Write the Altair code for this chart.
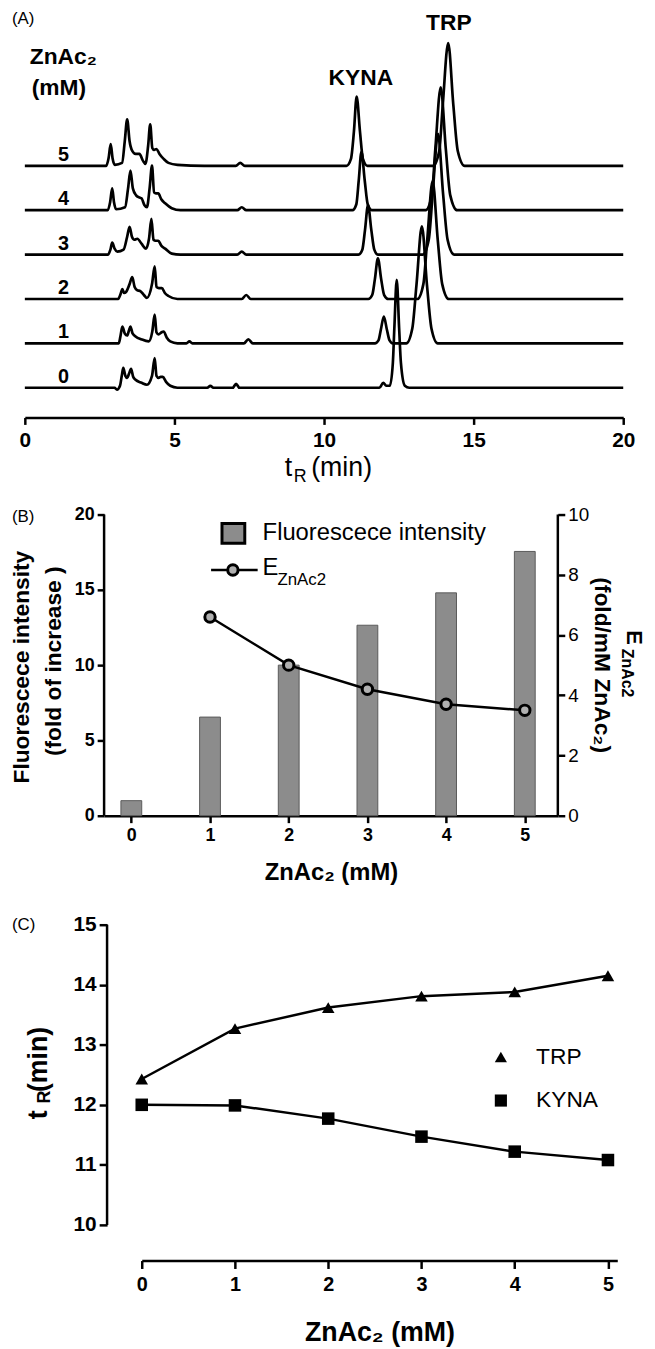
import altair as alt
import pandas as pd

FONT = "Liberation Sans"

# ---------------- Panel A: chromatograms (t = retention time in min, h = signal height) -------------
T0 = [0, 3.00, 3.08, 3.18, 3.24, 3.29, 3.36, 3.42, 3.48, 3.55, 3.62, 3.70, 3.90, 4.08, 4.25, 4.34, 4.40, 4.47, 4.54, 4.61, 4.72, 4.86, 5.10, 6.10, 6.20, 6.30, 6.95, 7.06, 7.17, 11.85, 11.98, 12.08, 12.20, 12.30, 12.35, 12.43, 12.51, 12.57, 12.70, 12.85, 20]
H0 = [0, 0, -2, 2, 12, 20, 12, 10, 14, 19, 11, 8, 5, 3, 12, 30, 12, 10, 11, 11, 6, 2, 0, 0, 2, 0, 0, 4, 0, 0, 5, 2, 2, 25, 60, 109, 60, 25, 2, 0, 0]

T1 = [0, 3.14, 3.20, 3.26, 3.34, 3.42, 3.48, 3.53, 3.60, 3.70, 3.90, 4.14, 4.26, 4.34, 4.40, 4.47, 4.56, 4.64, 4.74, 4.86, 5.10, 5.40, 5.50, 5.60, 7.32, 7.47, 7.62, 11.70, 11.82, 11.90, 12.00, 12.10, 12.19, 12.30, 12.75, 12.95, 13.09, 13.27, 13.44, 13.59, 13.80, 20]
H1 = [0, 0, 8, 17, 10, 8, 13, 17, 10, 7, 4, 2, 12, 29, 11, 9, 11, 12, 6, 2, 0, 0, 2, 0, 0, 4, 0, 0, 3, 14, 27, 14, 3, 0, 0, 15, 59, 118, 59, 15, 0, 0]

T2 = [0, 3.12, 3.20, 3.26, 3.32, 3.38, 3.50, 3.59, 3.67, 3.75, 3.86, 3.98, 4.08, 4.25, 4.34, 4.40, 4.48, 4.58, 4.68, 4.80, 5.10, 7.25, 7.40, 7.55, 11.48, 11.61, 11.70, 11.80, 11.91, 12.01, 12.15, 13.12, 13.32, 13.45, 13.63, 13.80, 13.95, 14.17, 20]
H2 = [0, 0, 5, 10, 6, 7, 15, 22, 12, 9, 8, 4, 1, 15, 33, 12, 11, 11, 6, 3, 0, 0, 4, 0, 0, 4, 20, 41, 20, 4, 0, 0, 15, 60, 119, 60, 15, 0, 0]

T3 = [0, 2.78, 2.86, 2.92, 3.00, 3.09, 3.30, 3.42, 3.50, 3.58, 3.66, 3.76, 3.90, 4.05, 4.15, 4.23, 4.30, 4.37, 4.46, 4.56, 4.69, 4.91, 5.20, 7.10, 7.25, 7.40, 11.15, 11.28, 11.37, 11.47, 11.58, 11.68, 11.80, 13.30, 13.50, 13.63, 13.81, 13.98, 14.13, 14.35, 20]
H3 = [0, 0, 5, 12, 6, 3, 5, 18, 28, 18, 15, 16, 11, 6, 16, 36, 15, 14, 14, 9, 6, 1, 0, 0, 3, 0, 0, 5, 25, 50, 25, 5, 0, 0, 15, 61, 122, 61, 15, 0, 0]

T4 = [0, 2.77, 2.85, 2.92, 2.98, 3.05, 3.35, 3.45, 3.53, 3.61, 3.72, 3.82, 3.90, 4.00, 4.08, 4.17, 4.25, 4.32, 4.38, 4.46, 4.56, 4.69, 4.91, 5.20, 7.10, 7.25, 7.40, 10.95, 11.08, 11.16, 11.25, 11.36, 11.46, 11.60, 13.40, 13.60, 13.72, 13.90, 14.07, 14.22, 14.45, 20]
H4 = [0, 0, 8, 22, 8, 1, 3, 22, 40, 22, 15, 13, 12, 5, 3, 22, 45, 18, 17, 17, 11, 7, 2, 0, 0, 3, 0, 0, 6, 30, 59, 30, 6, 0, 0, 15, 62, 124, 62, 15, 0, 0]

T5 = [0, 2.72, 2.80, 2.87, 2.93, 3.01, 3.25, 3.34, 3.42, 3.50, 3.59, 3.70, 3.83, 3.95, 4.03, 4.12, 4.19, 4.26, 4.32, 4.40, 4.50, 4.64, 4.80, 5.10, 6.00, 7.05, 7.20, 7.35, 10.75, 10.90, 11.00, 11.09, 11.20, 11.30, 11.45, 13.65, 13.85, 13.97, 14.15, 14.32, 14.47, 14.70, 20]
H5 = [0, 0, 8, 22, 8, 1, 3, 25, 47, 25, 15, 12, 12, 5, 2, 20, 42, 18, 16, 17, 12, 7, 3, 1, 0, 0, 3, 0, 0, 7, 35, 70, 35, 7, 0, 0, 15, 62, 124, 62, 15, 0, 0]

LEVEL_LABELS = ["0", "1", "2", "3", "4", "5"]
A_TICKS = [0, 5, 10, 15, 20]
PEAK_NAMES = ["KYNA", "TRP"]
PEAK_T = [11.23, 14.17]
PEAK_V = [331, 386]

# ---------------- Panel B ----------------
ZN = [0, 1, 2, 3, 4, 5]
FLUOR = [1.0, 6.55, 10.0, 12.65, 14.8, 17.55]
E_ZN = [1, 2, 3, 4, 5]
E_VAL = [6.6, 5.0, 4.2, 3.7, 3.5]
B_LEFT_TICKS = [0, 5, 10, 15, 20]
B_RIGHT_TICKS = [0, 2, 4, 6, 8, 10]

# ---------------- Panel C ----------------
TRP = [12.43, 13.27, 13.62, 13.81, 13.88, 14.15]
KYNA = [12.0, 11.99, 11.77, 11.47, 11.22, 11.08]
C_Y_TICKS = [10, 11, 12, 13, 14, 15]

# ---------------- layout constants ----------------
W = 604
HA, HB, HC = 377, 304, 303
BASE, GAP = 18, 44.8
SPACING = 110

ONE = pd.DataFrame({"k": [0]})


def ptext(txt, x, y, size, weight="normal", angle=0, align="center"):
    return alt.Chart(ONE).mark_text(
        text=txt, font=FONT, fontSize=size, fontWeight=weight, angle=angle,
        align=align, baseline="middle", color="black"
    ).encode(x=alt.value(x), y=alt.value(y))


def vline(x, h):
    return alt.Chart(ONE).mark_rule(color="black", strokeWidth=2.5).encode(
        x=alt.value(x), y=alt.value(0), y2=alt.value(h))


# ---------- Panel A ----------
rows = []
for k, (ts, hs) in enumerate(zip([T0, T1, T2, T3, T4, T5], [H0, H1, H2, H3, H4, H5])):
    for t, h in zip(ts, hs):
        rows.append({"level": k, "t": t, "v": BASE + GAP * k + h})
dfA = pd.DataFrame(rows)
dfLev = pd.DataFrame({"t": [1.29] * 6, "v": [BASE + GAP * k + 11 for k in range(6)], "lab": LEVEL_LABELS})
dfPk = pd.DataFrame({"t": PEAK_T, "v": PEAK_V, "lab": PEAK_NAMES})

xA = alt.X("t:Q", scale=alt.Scale(domain=[0, 20], nice=False, zero=False),
           axis=alt.Axis(values=A_TICKS, title=None, offset=12, tickSize=7,
                         labelFontSize=21, labelFontWeight="bold", labelPadding=5, format="d"))
yA = alt.Y("v:Q", scale=alt.Scale(domain=[0, HA], nice=False, zero=False), axis=None)

tracesA = alt.Chart(dfA).mark_line(color="black", strokeWidth=2.7, interpolate="monotone",
                                   strokeJoin="round").encode(x=xA, y=yA, detail="level:N")
levA = alt.Chart(dfLev).mark_text(font=FONT, fontSize=20, fontWeight="bold", color="black").encode(
    x=xA, y=yA, text="lab:N")
pkA = alt.Chart(dfPk).mark_text(font=FONT, fontSize=23, fontWeight="bold", color="black").encode(
    x=xA, y=yA, text="lab:N")

panelA = alt.layer(
    tracesA, levA, pkA,
    ptext("(A)", -13, -13, 17, align="left"),
    ptext("ZnAc₂", 5, 25, 23, "bold", align="left"),
    ptext("(mM)", 7, 57, 23, "bold", align="left"),
    ptext("t", 266, 440, 27),
    ptext("R", 278, 449, 18),
    ptext("(min)", 289, 440, 27, align="left"),
).properties(width=W, height=HA)

# ---------- Panel B ----------
dfB = pd.DataFrame({"c": ZN, "f": FLUOR})
dfE = pd.DataFrame({"c": E_ZN, "e": E_VAL})
xB = alt.X("c:Q", scale=alt.Scale(domain=[-0.283, 5.357], range=[80, 538], nice=False, zero=False),
           axis=alt.Axis(values=ZN, title="ZnAc₂ (mM)", tickSize=7, labelFontSize=18, labelFontWeight="bold",
                         labelPadding=4, titleFontSize=24, titleFontWeight="bold", titlePadding=16, format="d"))
bars = alt.Chart(dfB).mark_bar(size=21, fill="#8c8c8c", stroke="#5a5a5a", strokeWidth=1).encode(
    x=xB,
    y=alt.Y("f:Q", scale=alt.Scale(domain=[0, 20], nice=False),
            axis=alt.Axis(values=B_LEFT_TICKS, orient="left", offset=-80, title=None, tickSize=7,
                          domain=False, labelFontSize=18, labelFontWeight="bold", labelPadding=3)))
yE = alt.Y("e:Q", scale=alt.Scale(domain=[0, 10], nice=False),
           axis=alt.Axis(values=B_RIGHT_TICKS, orient="right", offset=-66, title=None, tickSize=7,
                         domain=False, labelFontSize=19, labelFontWeight="normal", labelPadding=3))
eline = alt.Chart(dfE).mark_line(color="black", strokeWidth=2.5).encode(x=xB, y=yE)
epts = alt.Chart(dfE).mark_point(shape="circle", filled=True, fill="#b0b0b0", stroke="black",
                                 strokeWidth=3, size=110, opacity=1).encode(x=xB, y=yE)

legB = [
    alt.Chart(ONE).mark_rect(fill="#8c8c8c", stroke="black", strokeWidth=3).encode(
        x=alt.value(199), x2=alt.value(222), y=alt.value(9), y2=alt.value(29)),
    ptext("Fluorescece intensity", 240, 19, 24, align="left"),
    alt.Chart(ONE).mark_rule(color="black", strokeWidth=2.5).encode(
        x=alt.value(188), x2=alt.value(235), y=alt.value(56)),
    alt.Chart(ONE).mark_point(shape="circle", filled=True, fill="#b0b0b0", stroke="black",
                              strokeWidth=3, size=110, opacity=1).encode(x=alt.value(210), y=alt.value(56)),
    ptext("E", 240, 54, 24, align="left"),
    ptext("ZnAc2", 255, 66, 17, align="left"),
]

panelB = alt.layer(
    bars, alt.layer(eline, epts),
    vline(80, HB), vline(538, HB),
    *legB,
    ptext("(B)", -13, 3, 17, align="left"),
    ptext("Fluorescece intensity", -3, 154, 23, "bold", angle=270),
    ptext("(fold of increase )", 30, 148, 23, "bold", angle=270),
    ptext("E", 615, 124, 22, "bold", angle=90),
    ptext("ZnAc2", 608, 160, 16, "bold", angle=90),
    ptext("(fold/mM ZnAc₂)", 583, 152, 23, "bold", angle=90),
).resolve_scale(y="independent").properties(width=W, height=HB)

# ---------- Panel C ----------
dfC = pd.DataFrame({
    "c": ZN + ZN,
    "r": TRP + KYNA,
    "s": ["TRP"] * 6 + ["KYNA"] * 6,
})
xC = alt.X("c:Q", scale=alt.Scale(domain=[0, 5.1], range=[118, 598], nice=False, zero=False),
           axis=alt.Axis(values=ZN, title="ZnAc₂ (mM)", offset=36, tickSize=8, labelFontSize=20,
                         labelFontWeight="bold", labelPadding=6, titleFontSize=27, titleFontWeight="bold",
                         titlePadding=26, format="d"))
yC = alt.Y("r:Q", scale=alt.Scale(domain=[10, 15], nice=False, zero=False),
           axis=alt.Axis(values=C_Y_TICKS, orient="left", offset=-83, title=None, tickSize=8,
                         domain=False, labelFontSize=21, labelFontWeight="bold", labelPadding=3))
linesC = alt.Chart(dfC).mark_line(color="black", strokeWidth=2.5).encode(x=xC, y=yC, detail="s:N")
# legend is placed relative to the top-left of the whole figure (panel A's plot origin)
LEG_Y = 122 + HA + SPACING + HB + SPACING
ptsC = alt.Chart(dfC).mark_point(filled=True, color="black", opacity=1, size=160).encode(
    x=xC, y=yC,
    shape=alt.Shape("s:N", scale=alt.Scale(domain=["TRP", "KYNA"], range=["triangle-up", "square"]),
                    legend=alt.Legend(title=None, orient="none", legendX=469, legendY=LEG_Y,
                                      labelFontSize=23, labelFont=FONT, labelColor="black",
                                      symbolSize=150, symbolFillColor="black", symbolStrokeColor="black",
                                      symbolStrokeWidth=0, rowPadding=20, labelOffset=24, padding=0)))

panelC = alt.layer(
    linesC, ptsC,
    vline(83, HC),
    ptext("(C)", -13, 0, 17, align="left"),
    ptext("t", 14, 192, 27, "bold", angle=270),
    ptext("R", 20, 174, 18, "bold", angle=270),
    ptext("(min)", 14, 136, 27, "bold", angle=270),
).properties(width=W, height=HC)

chart = alt.vconcat(panelA, panelB, panelC, spacing=SPACING, bounds="flush").properties(
    padding={"left": 2, "top": -4, "right": 2, "bottom": 0}
).configure_view(stroke=None).configure_axis(
    labelFont=FONT, titleFont=FONT, domainColor="black", tickColor="black", labelColor="black",
    titleColor="black", domainWidth=2.5, tickWidth=2.5, grid=False, labelFlush=False, labelOverlap=False
)

chart.save("out.html", embed_options={"renderer": "svg", "actions": False})
